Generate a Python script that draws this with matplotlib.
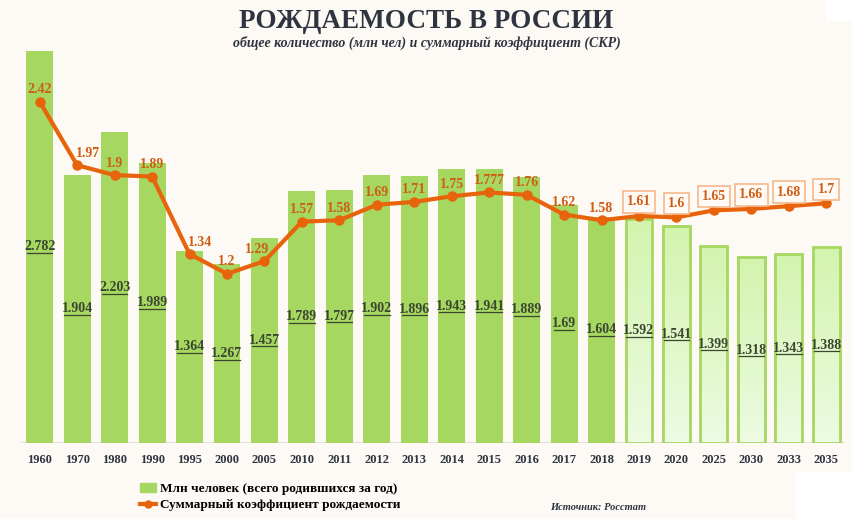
import matplotlib.pyplot as plt
import numpy as np
from matplotlib.patches import Rectangle
from matplotlib.lines import Line2D
from matplotlib.patches import Patch
from matplotlib.colors import LinearSegmentedColormap

# данные
years = ["1960", "1970", "1980", "1990", "1995", "2000", "2005", "2010", "2011",
         "2012", "2013", "2014", "2015", "2016", "2017", "2018", "2019", "2020",
         "2025", "2030", "2033", "2035"]
births = [2.782, 1.904, 2.203, 1.989, 1.364, 1.267, 1.457, 1.789, 1.797, 1.902,
          1.896, 1.943, 1.941, 1.889, 1.69, 1.604, 1.592, 1.541, 1.399, 1.318,
          1.343, 1.388]
tfr = [2.42, 1.97, 1.9, 1.89, 1.34, 1.2, 1.29, 1.57, 1.58, 1.69, 1.71, 1.75,
       1.777, 1.76, 1.62, 1.58, 1.61, 1.6, 1.65, 1.66, 1.68, 1.7]
first_forecast = 16  # с 2019 года - прогноз

bg = "#fdf9f4"
green = "#a6d760"
orange = "#e8640c"
dark = "#2e3440"
serif = "Liberation Serif"

fig = plt.figure(figsize=(8.53, 5.19), dpi=100, facecolor=bg)
ax = fig.add_axes([21 / 853, 1 - 443 / 519, 824 / 853, 398 / 519])
ax.set_facecolor(bg)
ax.set_xlim(-0.5, len(years) - 0.5)
ax.set_ylim(0, 398 / 141)
x = np.arange(len(years))

cmap = LinearSegmentedColormap.from_list("g", ["#ecfbe2", "#d3f4ae"])
grad = np.linspace(0, 1, 100).reshape(-1, 1)
for i, v in enumerate(births):
    if i < first_forecast:
        ax.bar(i, v, width=0.72, color=green, zorder=2)
    else:
        b = ax.bar(i, v, width=0.72, facecolor="none", edgecolor=green,
                   linewidth=2, zorder=3)[0]
        im = ax.imshow(grad, cmap=cmap, extent=(i - 0.36, i + 0.36, 0, v),
                       origin="lower", aspect="auto", zorder=2)
        im.set_clip_path(b)
    # подпись столбца с подчеркиванием
    s = str(v)
    ax.text(i, v / 2, s, ha="center", va="center", fontsize=10,
            fontweight="bold", family=serif, color="#3b4630", zorder=5)
    w = len(s.replace(".", "")) * 0.16 + 0.04
    ax.plot([i - w / 2, i + w / 2], [v / 2 - 0.042] * 2, color="#3b4630",
            lw=0.9, zorder=5)

ax.axhline(0, color="#e4e0da", lw=1.5, zorder=1)

# сдвиг подписей линии по горизонтали, чтобы не залезали на линию
dx = [0] * len(tfr)
dx[1] = 0.3
dx[4] = 0.27
dx[6] = -0.2

ax.plot(x, tfr, color=orange, lw=3, marker="o", markersize=6.5, zorder=6)
for i, v in enumerate(tfr):
    if i < first_forecast:
        ax.text(i + dx[i], v + 0.085, str(v), ha="center", va="center", fontsize=10,
                fontweight="bold", family=serif, color="#cf5d12", zorder=7)
    else:
        ax.text(i, v + 0.1, str(v), ha="center", va="center", fontsize=10,
                fontweight="bold", family=serif, color="#cf5d12", zorder=7,
                bbox=dict(boxstyle="square,pad=0.3", fc="#fffaf6",
                          ec="#f6b98c", lw=1.2))

ax.set_xticks(x)
ax.set_xticklabels(years, fontsize=9, fontweight="bold", family=serif, color=dark)
ax.tick_params(axis="x", length=0, pad=8)
ax.set_yticks([])
for sp in ax.spines.values():
    sp.set_visible(False)

fig.text(0.5, 1 - 21 / 519, "РОЖДАЕМОСТЬ В РОССИИ", ha="center", va="center",
         fontsize=19.5, fontweight="bold", family=serif, color=dark)
fig.text(0.5, 1 - 43 / 519, "общее количество (млн чел) и суммарный коэффициент (СКР)",
         ha="center", va="center", fontsize=10, fontweight="bold", style="italic",
         family=serif, color=dark)

handles = [Patch(color=green),
           Line2D([0], [0], color=orange, lw=3, marker="o", markersize=5)]
fig.legend(handles, ["Млн человек (всего родившихся за год)",
                     "Суммарный коэффициент рождаемости"],
           loc="center left", bbox_to_anchor=(128 / 853, 1 - 497 / 519),
           frameon=False, handlelength=1.2, handletextpad=0.3, labelspacing=0.3,
           prop=dict(family=serif, weight="bold", size=9.5))

fig.text(550 / 853, 1 - 508 / 519, "Источник: Росстат", ha="left", va="center",
         fontsize=7.5, fontweight="bold", style="italic", family=serif, color=dark)

# белые области по краям, как в исходной картинке
fig.patches.append(Rectangle((796 / 853, 0), 57 / 853, 47 / 519,
                             transform=fig.transFigure, color="white", zorder=0))
fig.patches.append(Rectangle((826 / 853, 1 - 20 / 519), 27 / 853, 20 / 519,
                             transform=fig.transFigure, color="white", zorder=0))

fig.savefig("out.png", dpi=100, facecolor=bg)
